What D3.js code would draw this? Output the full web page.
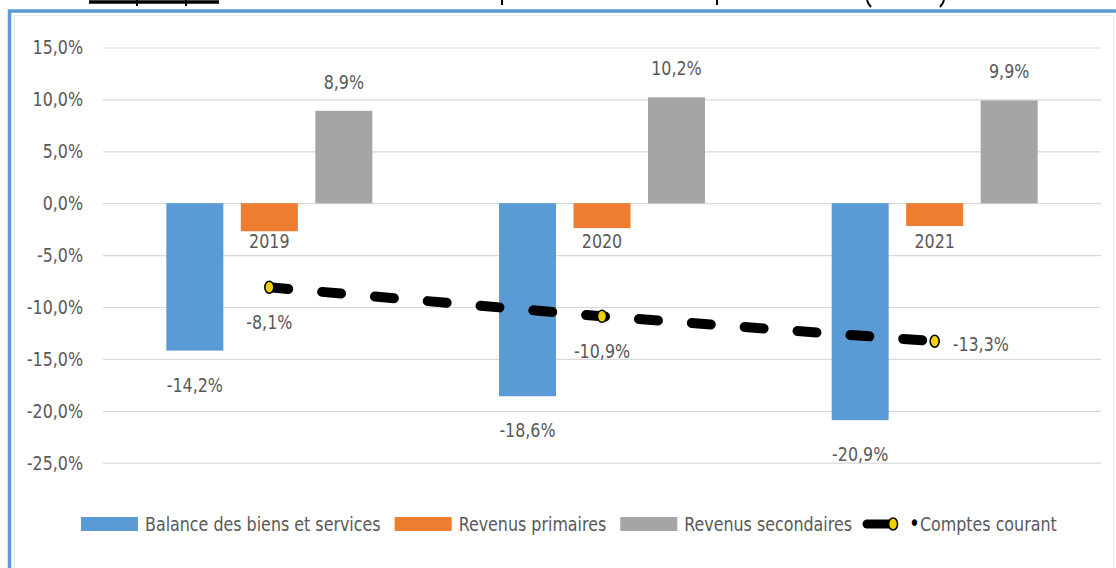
<!DOCTYPE html>
<html>
<head>
<meta charset="utf-8">
<script src="https://cdn.jsdelivr.net/npm/d3@7/dist/d3.min.js"></script>
<style>
  html, body { margin: 0; padding: 0; background: #ffffff; }
  svg { display: block; }
  text { font-family: "DejaVu Sans Condensed", "Liberation Sans Narrow", sans-serif; fill: #595959; }
</style>
</head>
<body>
<svg id="chart" width="1116" height="568"></svg>
<script>
// ---- data ----
const years = ["2019", "2020", "2021"];
const seriesNames = ["Balance des biens et services", "Revenus primaires", "Revenus secondaires"];
const balanceBiensServices = [-14.2, -18.6, -20.9];
const revenusPrimaires = [-2.7, -2.4, -2.2];
const revenusSecondaires = [8.9, 10.2, 9.9];
const comptesCourant = [-8.1, -10.9, -13.3];
const lineName = "Comptes courant";
const yTicks = [-25, -20, -15, -10, -5, 0, 5, 10, 15];
const currentLabelSide = ["below", "below", "right"];

const colors = ["#5b9bd5", "#ed7d31", "#a5a5a5"];
const seriesValues = [balanceBiensServices, revenusPrimaires, revenusSecondaires];

const fmt = v => d3.format(".1f")(v).replace(".", ",").replace("−", "-") + "%";
const FS = 19, SX = 0.93, SY = 1.06;

const svg = d3.select("#chart");
const W = 1116, H = 568;

// title fragment (cropped at top of the image)
svg.append("line").attr("x1", 89).attr("x2", 219).attr("y1", 2).attr("y2", 2)
  .attr("stroke", "#000").attr("stroke-width", 3.5);
[137, 186].forEach(x => {
  svg.append("line").attr("x1", x).attr("x2", x).attr("y1", 0).attr("y2", 6)
    .attr("stroke", "#000").attr("stroke-width", 2);
});
[502, 717].forEach(x => {
  svg.append("line").attr("x1", x).attr("x2", x).attr("y1", 0).attr("y2", 5)
    .attr("stroke", "#000").attr("stroke-width", 2);
});
svg.append("path").attr("d", "M867,0 Q868,4 871,7").attr("fill", "none").attr("stroke", "#000").attr("stroke-width", 2);
svg.append("path").attr("d", "M944,0 Q943,4 940,7").attr("fill", "none").attr("stroke", "#000").attr("stroke-width", 2);

// frame
svg.append("rect").attr("x", 9.5).attr("y", 11).attr("width", W + 20).attr("height", H + 20)
  .attr("fill", "none").attr("stroke", "#5b9bd5").attr("stroke-width", 3.5);
svg.append("rect").attr("x", 14.5).attr("y", 15.5).attr("width", 1099).attr("height", H + 20)
  .attr("fill", "none").attr("stroke", "#ececec").attr("stroke-width", 1);

// scales
const plotLeft = 103, plotRight = 1101;
const y = d3.scaleLinear().domain([-25, 15]).range([462.7, 47.5]);
const x0 = d3.scaleBand().domain(years).range([plotLeft, plotRight]).padding(0);
const x1 = d3.scaleBand().domain(seriesNames).range([0, x0.bandwidth()])
  .paddingInner(0.235).paddingOuter(0.85);

// grid + y axis
const yAxis = d3.axisLeft(y).tickValues(yTicks).tickSize(-(plotRight - plotLeft)).tickPadding(20)
  .tickFormat(fmt);
const gy = svg.append("g").attr("transform", `translate(${plotLeft},0)`).call(yAxis);
gy.select(".domain").remove();
gy.selectAll(".tick line").attr("stroke", "#d9d9d9").attr("stroke-width", 1.2);
gy.selectAll(".tick text").attr("font-size", FS).style("fill", "#595959");

// bars
seriesNames.forEach((name, si) => {
  svg.append("g").selectAll("rect").data(years).join("rect")
    .attr("x", d => x0(d) + x1(name))
    .attr("width", x1.bandwidth())
    .attr("y", (d, i) => y(Math.max(0, seriesValues[si][i])))
    .attr("height", (d, i) => Math.abs(y(seriesValues[si][i]) - y(0)))
    .attr("fill", colors[si]);
});

// category axis labels
const xAxis = d3.axisBottom(x0).tickSize(0).tickPadding(31);
const gx = svg.append("g").attr("transform", `translate(0,${y(0)})`).call(xAxis);
gx.select(".domain").remove();
gx.selectAll(".tick text").attr("font-size", FS).style("fill", "#595959");

// bar labels
svg.append("g").selectAll("text").data(years).join("text")
  .attr("x", d => x0(d) + x1(seriesNames[0]) + x1.bandwidth() / 2)
  .attr("y", (d, i) => y(balanceBiensServices[i]) + 41)
  .attr("text-anchor", "middle").attr("font-size", FS)
  .text((d, i) => fmt(balanceBiensServices[i]));
svg.append("g").selectAll("text").data(years).join("text")
  .attr("x", d => x0(d) + x1(seriesNames[2]) + x1.bandwidth() / 2)
  .attr("y", (d, i) => y(revenusSecondaires[i]) - 22)
  .attr("text-anchor", "middle").attr("font-size", FS)
  .text((d, i) => fmt(revenusSecondaires[i]));

// current account line
const cx = d => x0(d) + x0.bandwidth() / 2;
const line = d3.line().x((d, i) => cx(years[i])).y(d => y(d));
svg.append("path").datum(comptesCourant)
  .attr("d", line)
  .attr("fill", "none").attr("stroke", "#000").attr("stroke-width", 10)
  .attr("stroke-linecap", "round").attr("stroke-dasharray", "19,34");
svg.append("g").selectAll("ellipse").data(comptesCourant).join("ellipse")
  .attr("cx", (d, i) => cx(years[i])).attr("cy", d => y(d))
  .attr("rx", 4.5).attr("ry", 6)
  .attr("fill", "#f2d000").attr("stroke", "#000").attr("stroke-width", 1.5);
svg.append("g").selectAll("text").data(comptesCourant).join("text")
  .attr("x", (d, i) => currentLabelSide[i] === "right" ? cx(years[i]) + 18 : cx(years[i]))
  .attr("y", (d, i) => currentLabelSide[i] === "right" ? y(d) + 10 : y(d) + 42)
  .attr("text-anchor", (d, i) => currentLabelSide[i] === "right" ? "start" : "middle")
  .attr("font-size", FS)
  .text(d => fmt(d));

// legend
const lg = svg.append("g");
let lx = 81;
const ly = 524;
seriesNames.forEach((name, si) => {
  lg.append("rect").attr("x", lx).attr("y", ly - 7).attr("width", 57).attr("height", 14).attr("fill", colors[si]);
  const t = lg.append("text").attr("x", lx + 64).attr("y", ly + 7).attr("font-size", FS).text(name);
  lx += 64 + t.node().getComputedTextLength() * SX + 14;
});
lx -= 4;
lg.append("line").attr("x1", lx + 5).attr("x2", lx + 29).attr("y1", ly).attr("y2", ly)
  .attr("stroke", "#000").attr("stroke-width", 9).attr("stroke-linecap", "round");
lg.append("ellipse").attr("cx", lx + 31).attr("cy", ly).attr("rx", 4.5).attr("ry", 6)
  .attr("fill", "#f2d000").attr("stroke", "#000").attr("stroke-width", 1.5);
const lt = lg.append("text").attr("x", lx + 47).attr("y", ly + 7).attr("font-size", FS);
lt.append("tspan").style("fill", "#000").attr("font-size", 22).text("\u2022");
lt.append("tspan").text(lineName);

// condensed, slightly taller lettering (like the original's narrow font)
svg.selectAll("text").each(function () {
  const el = d3.select(this);
  const tx = +el.attr("x") || 0, ty = +el.attr("y") || 0;
  el.attr("transform", `translate(${tx},${ty}) scale(${SX},${SY}) translate(${-tx},${-ty})`);
});
</script>
</body>
</html>
